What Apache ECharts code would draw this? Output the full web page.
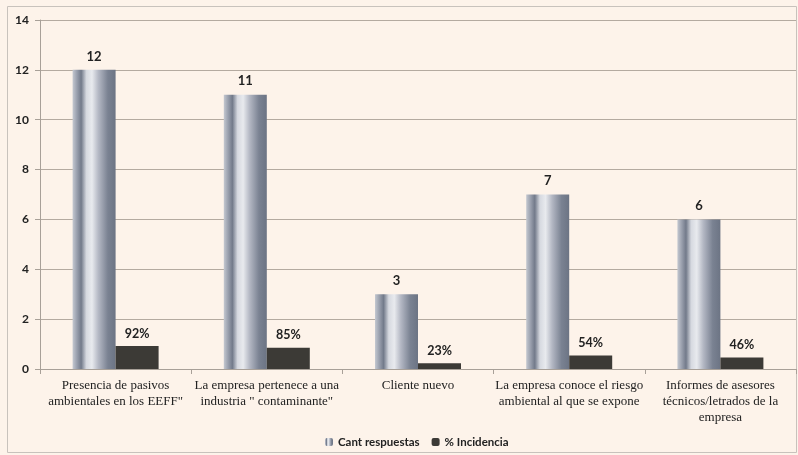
<!DOCTYPE html>
<html>
<head>
<meta charset="utf-8">
<script src="https://cdn.jsdelivr.net/npm/echarts@6/dist/echarts.min.js"></script>
<style>
html,body{margin:0;padding:0;background:#fdf3ea;}
#c{width:798px;height:455px;}
</style>
</head>
<body>
<div id="c"></div>
<script>
var categories = [
  'Presencia de pasivos\nambientales en los EEFF"',
  'La empresa pertenece a una\nindustria " contaminante"',
  'Cliente nuevo',
  'La empresa conoce el riesgo\nambiental al que se expone',
  'Informes de asesores\ntécnicos/letrados de la\nempresa'
];
var seriesNames = ['Cant respuestas', '% Incidencia'];
var cantRespuestas = [12, 11, 3, 7, 6];
var incidencia = [0.92, 0.85, 0.23, 0.54, 0.46];
var yTicks = [0, 2, 4, 6, 8, 10, 12, 14];

var chart = echarts.init(document.getElementById('c'));
var grayGrad = new echarts.graphic.LinearGradient(0, 0, 1, 0, [
  {offset: 0, color: '#c4c8d0'},
  {offset: 0.1, color: '#9aa0ae'},
  {offset: 0.2, color: '#727a8a'},
  {offset: 0.32, color: '#d6d9e0'},
  {offset: 0.45, color: '#e8eaee'},
  {offset: 0.6, color: '#b4b8c4'},
  {offset: 0.82, color: '#7a8292'},
  {offset: 1, color: '#6c7484'}
]);
chart.setOption({
  backgroundColor: '#fdf3ea',
  animation: false,
  textStyle: {fontFamily: 'Liberation Serif'},
  grid: {left: 40, right: 2, top: 20, bottom: 86},
  legend: {
    data: seriesNames,
    top: 431,
    left: 320,
    itemWidth: 8,
    itemHeight: 8,
    itemGap: 12,
    textStyle: {fontFamily: 'Lato', fontWeight: 'bold', fontSize: 11.5, color: '#222'}
  },
  xAxis: {
    type: 'category',
    data: categories,
    axisLine: {lineStyle: {color: '#a8a098'}},
    axisTick: {show: true, length: 5, lineStyle: {color: '#a8a098'}},
    axisLabel: {
      interval: 0,
      fontFamily: 'Liberation Serif',
      fontSize: 13,
      lineHeight: 16,
      color: '#222',
      margin: 9
    }
  },
  yAxis: {
    type: 'value',
    min: 0,
    max: 14,
    interval: 2,
    axisLine: {show: true, lineStyle: {color: '#a8a098'}},
    axisTick: {show: true, length: 5, lineStyle: {color: '#a8a098'}},
    splitLine: {lineStyle: {color: '#b4aaa0'}},
    axisLabel: {
      fontFamily: 'Lato',
      fontWeight: 'bold',
      fontSize: 12,
      color: '#222',
      margin: 11,
      formatter: function (v) { return yTicks.indexOf(v) >= 0 ? String(v) : ''; }
    }
  },
  series: [
    {
      name: seriesNames[0],
      type: 'bar',
      data: cantRespuestas,
      barWidth: 43,
      barGap: '0%',
      itemStyle: {color: grayGrad},
      label: {
        show: true,
        position: 'top',
        distance: 7,
        fontFamily: 'Lato',
        fontWeight: 'bold',
        fontSize: 13,
        color: '#222'
      }
    },
    {
      name: seriesNames[1],
      type: 'bar',
      data: incidencia,
      barWidth: 43,
      barGap: '0%',
      itemStyle: {color: '#3c3a36'},
      label: {
        show: true,
        position: 'top',
        distance: 6,
        fontFamily: 'Lato',
        fontWeight: 'bold',
        fontSize: 12.5,
        color: '#222',
        formatter: function (p) { return Math.round(p.value * 100) + '%'; }
      }
    }
  ],
  graphic: [{
    type: 'rect',
    shape: {x: 7.5, y: 6.5, width: 789, height: 446},
    style: {fill: 'none', stroke: '#c8c2bc', lineWidth: 1},
    silent: true,
    z: -1
  }]
});
</script>
</body>
</html>
